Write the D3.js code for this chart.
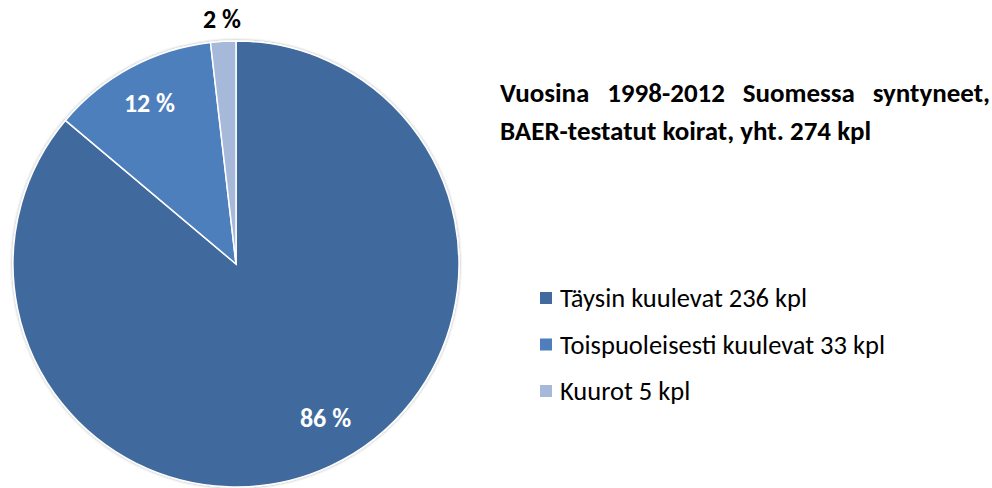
<!DOCTYPE html>
<html><head><meta charset="utf-8">
<script src="https://cdn.jsdelivr.net/npm/d3@7"></script>
<style>body{margin:0;background:#fff}svg{display:block;font-family:Carlito,Lato,"Open Sans",sans-serif}</style>
</head><body>
<svg id="c" width="992" height="488"></svg>
<script>
const categories = ["Täysin kuulevat 236 kpl", "Toispuoleisesti kuulevat 33 kpl", "Kuurot 5 kpl"];
const values = [236, 33, 5];
const percentLabels = ["86 %", "12 %", "2 %"];
const colors = ["#416B9E", "#4E7FBC", "#A6B9DA"];
const titleLines = ["Vuosina 1998-2012 Suomessa syntyneet,", "BAER-testatut koirat, yht. 274 kpl"];

const svg = d3.select("#c");
const cx = 236, cy = 264, r = 223;
const pie = d3.pie().sort(null).value(d => d)(values);
const arc = d3.arc().innerRadius(0).outerRadius(r);
const g = svg.append("g").attr("transform", `translate(${cx},${cy})`);
const defs = svg.append("defs");
const f = defs.append("filter").attr("id","sh").attr("x","-10%").attr("y","-10%").attr("width","120%").attr("height","120%");
f.append("feGaussianBlur").attr("in","SourceAlpha").attr("stdDeviation",1.5);
f.append("feOffset").attr("dx",0).attr("dy",0).attr("result","b");
f.append("feComponentTransfer").append("feFuncA").attr("type","linear").attr("slope",0.35);
const m = f.append("feMerge"); m.append("feMergeNode"); m.append("feMergeNode").attr("in","SourceGraphic");

g.append("g").attr("filter","url(#sh)").selectAll("path").data(pie).join("path")
  .attr("d", arc).attr("fill", (d,i) => colors[i])
  .attr("stroke", "#fff").attr("stroke-width", 1.5);

const labelR = [0.80, 0.82, 1.10];
const angleShift = [-0.09, 0, 0];
pie.forEach((d,i) => {
  const a = (d.startAngle + d.endAngle) / 2 + angleShift[i];
  const rr = r * labelR[i];
  const px = rr * Math.sin(a), py = -rr * Math.cos(a);
  g.append("text").attr("x", px).attr("y", py).attr("dy","0.35em")
    .attr("text-anchor","middle").attr("font-weight","bold").attr("font-size",26)
    .attr("fill", i < 2 ? "#fff" : "#000").text(percentLabels[i]);
});

// Title (first line justified)
const fsT = 27;
const tx0 = 500, tx1 = 990;
const words = titleLines[0].split(" ");
const tmp = words.map(w => svg.append("text").attr("font-weight","bold").attr("font-size",fsT).attr("y",102).text(w));
const widths = tmp.map(t => t.node().getComputedTextLength());
const gap = (tx1 - tx0 - d3.sum(widths)) / (words.length - 1);
let x = tx0;
tmp.forEach((t,i) => { t.attr("x", x); x += widths[i] + gap; });
svg.append("text").attr("x", tx0).attr("y", 140).attr("font-weight","bold").attr("font-size",fsT).text(titleLines[1]);

// Legend
const lg = svg.append("g");
categories.forEach((c,i) => {
  const y = 298 + i*46.5;
  lg.append("rect").attr("x",540).attr("y",y-6).attr("width",12).attr("height",12).attr("fill",colors[i]);
  lg.append("text").attr("x",560).attr("y",y).attr("dy","0.35em").attr("font-size",26.5).attr("fill","#000").text(c);
});
</script>
</body></html>
